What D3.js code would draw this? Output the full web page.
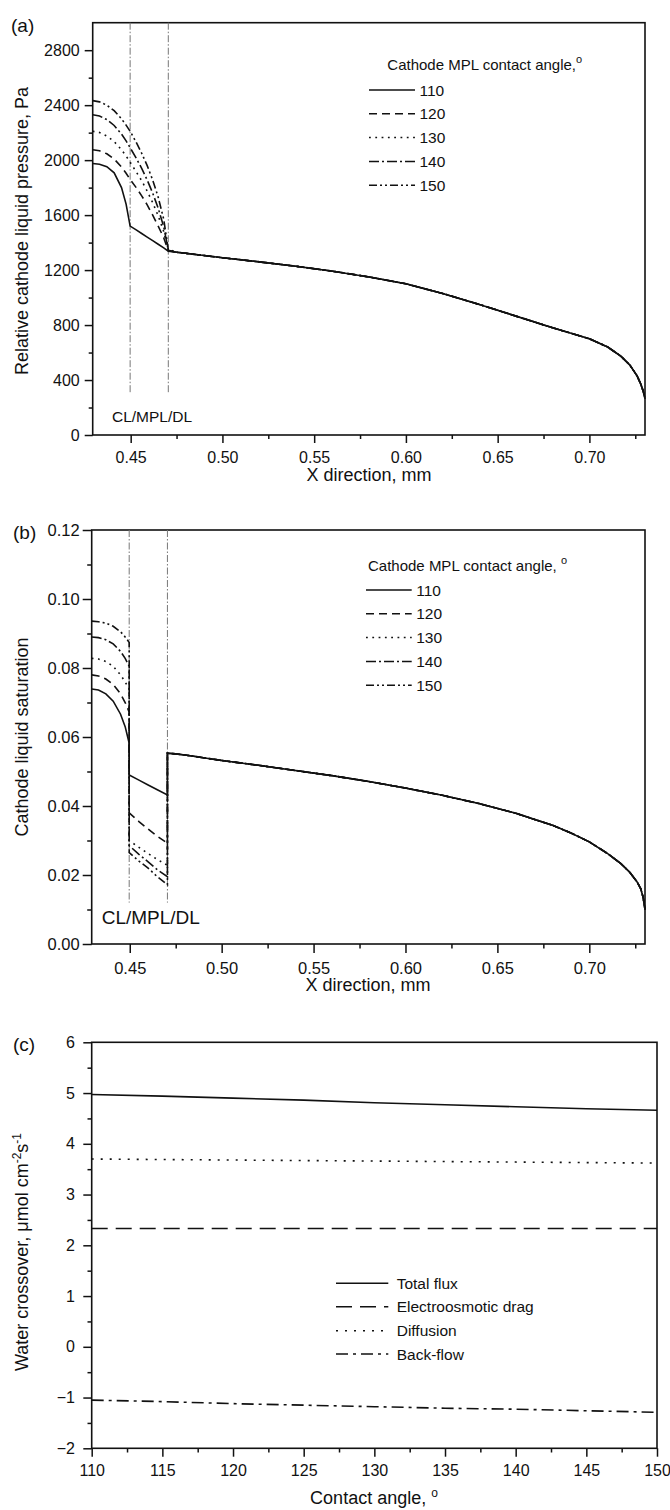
<!DOCTYPE html>
<html>
<head>
<meta charset="utf-8">
<script src="https://cdn.jsdelivr.net/npm/d3@7"></script>
<style>
  body { margin: 0; background: #fff; }
  svg { display: block; }
</style>
</head>
<body>
<div id="chart"></div>
<script>
// ---------- data: panel (a) relative cathode liquid pressure ----------
var angleLabels = ["110", "120", "130", "140", "150"];
var interfaceX = [0.4497, 0.4705];

var aHeadX = [0.4293, 0.433, 0.437, 0.441, 0.445, 0.4475, 0.4497, 0.453, 0.456, 0.459, 0.462, 0.465, 0.468, 0.4705];
var aP110 = [1975, 1970, 1952, 1908, 1800, 1680, 1520, 1492, 1466, 1440, 1414, 1388, 1362, 1338];
var aP120 = [2076, 2068, 2046, 2008, 1950, 1905, 1860, 1800, 1740, 1675, 1600, 1520, 1435, 1340];
var aP130 = [2210, 2201, 2176, 2135, 2075, 2030, 1985, 1915, 1850, 1775, 1690, 1595, 1480, 1342];
var aP140 = [2330, 2321, 2295, 2252, 2190, 2140, 2090, 2015, 1940, 1855, 1760, 1650, 1515, 1345];
var aP150 = [2433, 2424, 2400, 2360, 2300, 2255, 2210, 2130, 2050, 1960, 1855, 1730, 1570, 1350];
var aTailX = [0.475, 0.48, 0.49, 0.50, 0.52, 0.54, 0.56, 0.58, 0.60, 0.62, 0.64, 0.66, 0.68, 0.69, 0.70, 0.71, 0.717, 0.722, 0.726, 0.728, 0.7293, 0.7303];
var aTailP = [1330, 1322, 1306, 1290, 1260, 1228, 1192, 1150, 1100, 1030, 950, 865, 780, 740, 700, 640, 575, 510, 430, 370, 320, 265];

// ---------- data: panel (b) cathode liquid saturation ----------
var bHeadX = [0.4293, 0.433, 0.437, 0.441, 0.445, 0.4475, 0.4497];
var bMidX = [0.4497, 0.455, 0.46, 0.465, 0.4705];
var bS110Head = [0.0739, 0.0736, 0.0725, 0.0704, 0.0666, 0.0630, 0.0582];
var bS120Head = [0.0780, 0.0777, 0.0768, 0.0752, 0.0725, 0.0700, 0.0672];
var bS130Head = [0.0828, 0.0826, 0.0819, 0.0805, 0.0780, 0.0760, 0.0738];
var bS140Head = [0.0890, 0.0888, 0.0882, 0.0870, 0.0848, 0.0828, 0.0805];
var bS150Head = [0.0936, 0.0934, 0.0930, 0.0921, 0.0905, 0.0890, 0.0874];
var bS110Mid = [0.0490, 0.0475, 0.0461, 0.0447, 0.0432];
var bS120Mid = [0.0380, 0.0355, 0.0333, 0.0312, 0.0292];
var bS130Mid = [0.0300, 0.0280, 0.0262, 0.0245, 0.0228];
var bS140Mid = [0.0285, 0.0260, 0.0238, 0.0215, 0.0195];
var bS150Mid = [0.0265, 0.0240, 0.0220, 0.0195, 0.0172];
var bTailX = [0.4705, 0.475, 0.48, 0.49, 0.50, 0.52, 0.54, 0.56, 0.58, 0.60, 0.62, 0.64, 0.66, 0.68, 0.69, 0.70, 0.71, 0.717, 0.722, 0.726, 0.728, 0.7293, 0.7303];
var bTailS = [0.0553, 0.0551, 0.0548, 0.0540, 0.0532, 0.0518, 0.0503, 0.0488, 0.0471, 0.0452, 0.0431, 0.0407, 0.0379, 0.0344, 0.0322, 0.0296, 0.0262, 0.0234, 0.0208, 0.0180, 0.0160, 0.0135, 0.0100];

// ---------- data: panel (c) water crossover ----------
var contactAngles = [110, 115, 120, 125, 130, 135, 140, 145, 150];
var totalFlux     = [4.97, 4.94, 4.90, 4.86, 4.81, 4.77, 4.73, 4.69, 4.66];
var eodFlux       = [2.33, 2.33, 2.33, 2.33, 2.33, 2.33, 2.33, 2.33, 2.33];
var diffusionFlux = [3.70, 3.69, 3.68, 3.67, 3.66, 3.65, 3.64, 3.63, 3.62];
var backFlow      = [-1.05, -1.08, -1.12, -1.15, -1.18, -1.21, -1.23, -1.26, -1.29];
var fluxLabels = ["Total flux", "Electroosmotic drag", "Diffusion", "Back-flow"];

// ---------- ticks ----------
var xTicks = [0.45, 0.50, 0.55, 0.60, 0.65, 0.70];
var xMinor = [0.475, 0.525, 0.575, 0.625, 0.675, 0.725];
var aYTicks = [0, 400, 800, 1200, 1600, 2000, 2400, 2800];
var aYMinor = [200, 600, 1000, 1400, 1800, 2200, 2600];
var bYTicks = [0, 0.02, 0.04, 0.06, 0.08, 0.10, 0.12];
var bYMinor = [0.01, 0.03, 0.05, 0.07, 0.09, 0.11];
var cXTicks = [110, 115, 120, 125, 130, 135, 140, 145, 150];
var cXMinor = [112.5, 117.5, 122.5, 127.5, 132.5, 137.5, 142.5, 147.5];
var cYTicks = [-2, -1, 0, 1, 2, 3, 4, 5, 6];
var cYMinor = [-1.5, -0.5, 0.5, 1.5, 2.5, 3.5, 4.5, 5.5];

// ---------- styles ----------
var FONT = "'Liberation Sans', Arial, Helvetica, sans-serif";
var INK = "#111";
var angleDash = [null, "8,5", "1.8,4.5", "10,3,2,3", "8,3,2,3,2,3"];
var fluxDash = [null, "16,8", "2,7", "12,5,3,5"];

var width = 670, height = 1510;
var svg = d3.select("#chart").append("svg")
    .attr("width", width)
    .attr("height", height)
    .style("font-family", FONT);

function panel(p) {
  var x = d3.scaleLinear().domain(p.xDomain).range([p.left, p.right]);
  var y = d3.scaleLinear().domain(p.yDomain).range([p.bottom, p.top]);
  var g = svg.append("g");

  g.append("g").attr("transform", "translate(0," + p.bottom + ")")
      .call(d3.axisBottom(x).tickValues(p.xTicks).tickSize(p.tick).tickPadding(p.xPad).tickFormat(p.xFormat));
  g.append("g").attr("transform", "translate(0," + p.bottom + ")")
      .call(d3.axisBottom(x).tickValues(p.xMinor).tickSize(p.tick / 2).tickFormat(""));
  g.append("g").attr("transform", "translate(" + p.left + ",0)")
      .call(d3.axisLeft(y).tickValues(p.yTicks).tickSize(p.tick).tickPadding(p.yPad).tickFormat(p.yFormat));
  g.append("g").attr("transform", "translate(" + p.left + ",0)")
      .call(d3.axisLeft(y).tickValues(p.yMinor).tickSize(p.tick / 2).tickFormat(""));

  g.selectAll(".domain").remove();
  g.selectAll(".tick line").attr("stroke", INK).attr("stroke-width", 1.5);
  g.selectAll("g").attr("font-family", FONT).attr("font-size", p.fontSize);
  g.selectAll(".tick text").attr("fill", INK);

  g.append("rect")
      .attr("x", p.left).attr("y", p.top)
      .attr("width", p.right - p.left).attr("height", p.bottom - p.top)
      .attr("fill", "none").attr("stroke", INK).attr("stroke-width", 1.6);

  g.append("text")
      .attr("x", p.labelX).attr("y", p.labelY)
      .attr("font-size", 19).attr("fill", INK)
      .text(p.label);

  return { g: g, x: x, y: y };
}

function curve(pn, xs, ys, dash, w) {
  var line = d3.line().x(function(d) { return pn.x(d[0]); }).y(function(d) { return pn.y(d[1]); });
  pn.g.append("path")
      .datum(d3.zip(xs, ys))
      .attr("d", line)
      .attr("fill", "none")
      .attr("stroke", INK)
      .attr("stroke-width", w || 1.6)
      .attr("stroke-dasharray", dash);
}

function interfaces(pn, yLow) {
  interfaceX.forEach(function(v) {
    pn.g.append("line")
        .attr("x1", pn.x(v)).attr("x2", pn.x(v))
        .attr("y1", pn.y.range()[1]).attr("y2", pn.y(yLow))
        .attr("stroke", "#777").attr("stroke-width", 1)
        .attr("stroke-dasharray", "7,2,1.5,2");
  });
}

function angleLegend(pn, lx1, lx2, titleX, titleY, rowY, gap, degSpace) {
  var t = pn.g.append("text").attr("x", titleX).attr("y", titleY)
      .attr("font-size", 15).attr("fill", INK).text("Cathode MPL contact angle," + (degSpace ? " " : ""));
  t.append("tspan").attr("dy", -7).attr("font-size", 11).text("o");
  angleLabels.forEach(function(lab, i) {
    var yy = rowY + i * gap;
    pn.g.append("line").attr("x1", lx1).attr("x2", lx2).attr("y1", yy).attr("y2", yy)
        .attr("stroke", INK).attr("stroke-width", 1.5).attr("stroke-dasharray", angleDash[i]);
    pn.g.append("text").attr("x", lx2 + 4.5).attr("y", yy).attr("dy", "0.36em")
        .attr("font-size", 15.5).attr("fill", INK).text(lab);
  });
}

function yTitle(x, y, size) {
  return svg.append("text")
      .attr("transform", "translate(" + x + "," + y + ") rotate(-90)")
      .attr("text-anchor", "middle")
      .attr("font-size", size).attr("fill", INK);
}

function xTitle(x, y, txt) {
  return svg.append("text").attr("x", x).attr("y", y)
      .attr("text-anchor", "middle").attr("font-size", 18).attr("fill", INK).text(txt);
}

// ================= panel (a) =================
var pa = panel({
  left: 92.7, right: 645, top: 22.7, bottom: 435,
  xDomain: [0.4293, 0.7303], yDomain: [0, 3000],
  xTicks: xTicks, xMinor: xMinor, yTicks: aYTicks, yMinor: aYMinor,
  xFormat: d3.format(".2f"), yFormat: d3.format("d"),
  tick: 8, xPad: 9, yPad: 5, fontSize: 16,
  label: "(a)", labelX: 11, labelY: 32
});
interfaces(pa, 310);
[aP110, aP120, aP130, aP140, aP150].forEach(function(head, i) {
  curve(pa, aHeadX.concat(aTailX), head.concat(aTailP), angleDash[i]);
});
pa.g.append("text").attr("x", 112).attr("y", 416).attr("dy", "0.36em")
    .attr("font-size", 15.5).attr("fill", INK).text("CL/MPL/DL");
angleLegend(pa, 369, 415, 387.3, 70, 90, 23.8, false);
yTitle(28, 231, 18).text("Relative cathode liquid pressure, Pa");
xTitle(369, 481, "X direction, mm");

// ================= panel (b) =================
var pb = panel({
  left: 91.7, right: 645, top: 530, bottom: 944,
  xDomain: [0.4293, 0.7303], yDomain: [0, 0.12],
  xTicks: xTicks, xMinor: xMinor, yTicks: bYTicks, yMinor: bYMinor,
  xFormat: d3.format(".2f"), yFormat: d3.format(".2f"),
  tick: 9, xPad: 9, yPad: 3, fontSize: 16.5,
  label: "(b)", labelX: 13, labelY: 539
});
interfaces(pb, 0.012);
var bHeads = [bS110Head, bS120Head, bS130Head, bS140Head, bS150Head];
var bMids = [bS110Mid, bS120Mid, bS130Mid, bS140Mid, bS150Mid];
bHeads.forEach(function(head, i) {
  curve(pb, bHeadX.concat(bMidX, bTailX), head.concat(bMids[i], bTailS), angleDash[i]);
});
pb.g.append("text").attr("x", 101.7).attr("y", 917).attr("dy", "0.36em")
    .attr("font-size", 19).attr("fill", INK).text("CL/MPL/DL");
angleLegend(pb, 366, 411.7, 368, 571, 590, 23.8, true);
yTitle(28, 737, 18).text("Cathode liquid saturation");
xTitle(368, 991, "X direction, mm");

// ================= panel (c) =================
var pc = panel({
  left: 91.7, right: 657, top: 1042.3, bottom: 1448.3,
  xDomain: [110, 150], yDomain: [-2, 6],
  xTicks: cXTicks, xMinor: cXMinor, yTicks: cYTicks, yMinor: cYMinor,
  xFormat: d3.format("d"), yFormat: d3.format("d"),
  tick: 8.4, xPad: 8, yPad: 8.3, fontSize: 16,
  label: "(c)", labelX: 13, labelY: 1051
});
[totalFlux, eodFlux, diffusionFlux, backFlow].forEach(function(ys, i) {
  curve(pc, contactAngles, ys, fluxDash[i]);
});
var cRows = [1283.3, 1306.7, 1330.7, 1354];
fluxLabels.forEach(function(lab, i) {
  pc.g.append("line").attr("x1", 336).attr("x2", 388.3).attr("y1", cRows[i]).attr("y2", cRows[i])
      .attr("stroke", INK).attr("stroke-width", 1.5).attr("stroke-dasharray", fluxDash[i]);
  pc.g.append("text").attr("x", 396.7).attr("y", cRows[i]).attr("dy", "0.36em")
      .attr("font-size", 15.5).attr("fill", INK).text(lab);
});
var cy = yTitle(28, 1252, 18);
cy.append("tspan").text("Water crossover, \u03bcmol cm");
cy.append("tspan").attr("dy", -7).attr("font-size", 12).text("-2");
cy.append("tspan").attr("dy", 7).text("s");
cy.append("tspan").attr("dy", -7).attr("font-size", 12).text("-1");
var cx = xTitle(374, 1504, "Contact angle, ");
cx.append("tspan").attr("dy", -7).attr("font-size", 12).text("o");
</script>
</body>
</html>
